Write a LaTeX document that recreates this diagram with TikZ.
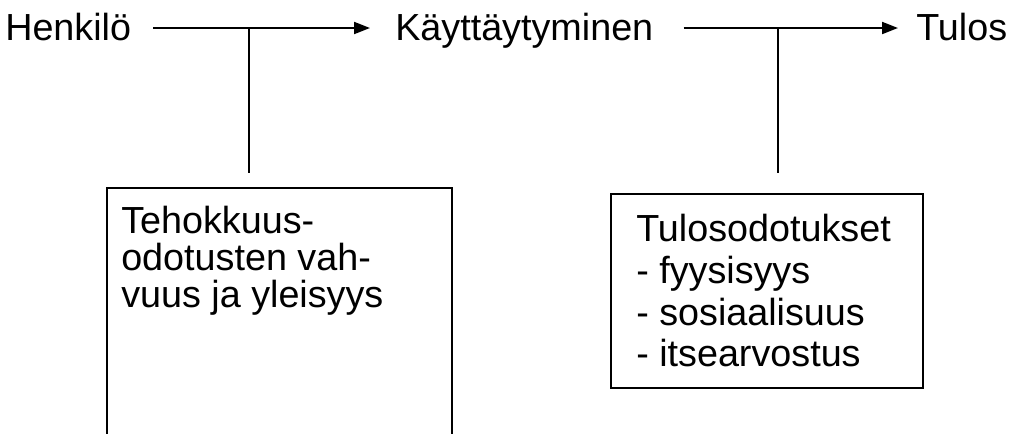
\documentclass[tikz,border=0pt]{standalone}
\usepackage{fontspec}
\setmainfont{Liberation Sans}
\usetikzlibrary{arrows.meta}
\begin{document}
\begin{tikzpicture}[x=0.75pt,y=-0.75pt,
  lbl/.style={inner sep=0pt, anchor=base west, font=\fontsize{28.3}{34}\selectfont},
  boxtext/.style={inner sep=0pt, anchor=north west, align=left},
  con/.style={line width=1.5pt},
  arr/.style={con, -{Triangle[length=12pt,width=9pt]}},
  frame/.style={draw, line width=1.5pt, inner sep=0pt, anchor=north west}]
\useasboundingbox (0,0) rectangle (1010,433);
\clip (0,0) rectangle (1010,433);
% top row
\node[lbl] (henk) at (5,40) {Henkilö};
\node[lbl] (kay) at (395,40) {Käyttäytyminen};
\node[lbl] (tulos) at (916,40) {Tulos};
\coordinate (j1) at (249,28);
\coordinate (j2) at (778,28);
\draw[arr, shorten <=16.5pt, shorten >=18.75pt] (henk.east |- j1) -- (kay.west |- j1);
\draw[arr, shorten <=22.5pt, shorten >=13.5pt] (kay.east |- j1) -- (tulos.west |- j1);
% boxes
\node[frame, minimum width=258.75pt, minimum height=204.75pt] (box1) at (106,187) {};
\node[frame, minimum width=234pt, minimum height=145.5pt] (box2) at (610,193) {};
\node[boxtext, font=\fontsize{28.3}{27.75}\selectfont] (t1) at (121,206)
  {Tehokkuus-\\odotusten vah-\\vuus ja yleisyys};
\node[boxtext, font=\fontsize{28.3}{31.3}\selectfont] (t2) at (636,214)
  {Tulosodotukset\\- fyysisyys\\- sosiaalisuus\\- itsearvostus};
% connectors to boxes
\draw[con, shorten >=10.5pt] (j1) -- (j1 |- box1.north);
\draw[con, shorten >=15pt] (j2) -- (j2 |- box2.north);
\end{tikzpicture}
\end{document}
